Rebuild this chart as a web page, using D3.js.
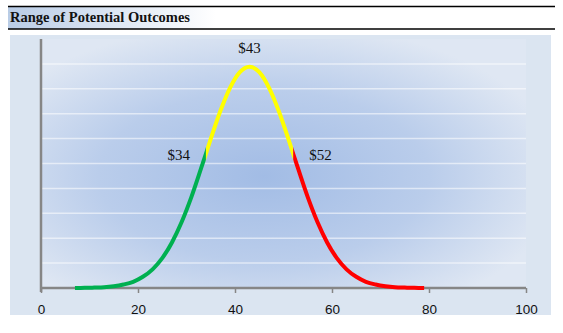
<!DOCTYPE html>
<html>
<head>
<meta charset="utf-8">
<script src="https://cdn.jsdelivr.net/npm/d3@7"></script>
<style>
  html, body { margin: 0; padding: 0; background: #fff; }
  svg { display: block; }
</style>
</head>
<body>
<svg id="chart" width="563" height="333"></svg>
<script>
// ---- data ----
const title = "Range of Potential Outcomes";
const xValues = [7, 9, 11, 13, 15, 17, 19, 21, 23, 25, 27, 29, 31, 33, 34, 35, 37, 39, 41, 43,
                 45, 47, 49, 51, 52, 53, 55, 57, 59, 61, 63, 65, 67, 69, 71, 73, 75, 77, 79];
const yValues = [0.003, 0.007, 0.016, 0.03, 0.07, 0.14, 0.25, 0.45, 0.75, 1.20, 1.83, 2.65, 3.65, 4.80, 5.39, 5.99, 7.12, 8.05, 8.67, 8.89,
                 8.67, 8.05, 7.12, 5.99, 5.39, 4.80, 3.65, 2.65, 1.83, 1.20, 0.75, 0.45, 0.25, 0.14, 0.07, 0.03, 0.016, 0.007, 0.003];
const lowValue = 34, midValue = 43, highValue = 52;
const markerLabels = ["$34", "$43", "$52"];
const xTicks = [0, 20, 40, 60, 80, 100];
const gridLevels = [1, 2, 3, 4, 5, 6, 7, 8, 9];
const segmentColors = ["#00b050", "#ffff00", "#ff0000"];

// ---- layout ----
const svg = d3.select("#chart");
const plot = { left: 41, right: 526, top: 39, bottom: 288 };
const x = d3.scaleLinear().domain([0, 100]).range([plot.left, plot.right]);
const y = d3.scaleLinear().domain([0, 10]).range([plot.bottom, plot.top]);

const defs = svg.append("defs");
const tg = defs.append("linearGradient").attr("id", "titleGrad").attr("x1", 0).attr("x2", 1).attr("y1", 0).attr("y2", 0);
tg.append("stop").attr("offset", "0").attr("stop-color", "#b9cce6");
tg.append("stop").attr("offset", "0.38").attr("stop-color", "#ffffff");
tg.append("stop").attr("offset", "1").attr("stop-color", "#ffffff");

const rg = defs.append("radialGradient").attr("id", "plotGrad")
  .attr("cx", 0.46).attr("cy", 0.55).attr("r", 0.62);
rg.append("stop").attr("offset", "0").attr("stop-color", "#a2bce5");
rg.append("stop").attr("offset", "0.55").attr("stop-color", "#bacdeb");
rg.append("stop").attr("offset", "1").attr("stop-color", "#dfe7f3");

// title bar
svg.append("rect").attr("x", 8).attr("y", 6).attr("width", 547).attr("height", 23).attr("fill", "url(#titleGrad)");
svg.append("line").attr("x1", 8).attr("x2", 555).attr("y1", 6.5).attr("y2", 6.5).attr("stroke", "#000").attr("stroke-width", 1.5);
svg.append("line").attr("x1", 8).attr("x2", 555).attr("y1", 29).attr("y2", 29).attr("stroke", "#000").attr("stroke-width", 1.5);
svg.append("text").attr("x", 10).attr("y", 22)
  .attr("font-family", "'Liberation Serif', 'Times New Roman', serif")
  .attr("font-weight", "bold").attr("font-size", 14.5).attr("fill", "#111")
  .text(title);

// chart area background
svg.append("rect").attr("x", 10).attr("y", 35).attr("width", 541).attr("height", 280).attr("fill", "#dbe5f1");
svg.append("rect").attr("x", plot.left).attr("y", plot.top)
  .attr("width", plot.right - plot.left).attr("height", plot.bottom - plot.top)
  .attr("fill", "url(#plotGrad)");

// gridlines
svg.append("g").selectAll("line").data(gridLevels).join("line")
  .attr("x1", plot.left).attr("x2", plot.right)
  .attr("y1", d => y(d)).attr("y2", d => y(d))
  .attr("stroke", "#ffffff").attr("stroke-opacity", 0.55).attr("stroke-width", 1.5);

// x axis
const xAxis = svg.append("g").attr("transform", `translate(0,${plot.bottom})`)
  .call(d3.axisBottom(x).tickValues(xTicks).tickSize(5).tickPadding(11).tickFormat(d3.format("d")));
xAxis.select(".domain").attr("stroke", "#868686").attr("stroke-width", 2.5).attr("d", `M${plot.left},0H${plot.right}`);
xAxis.selectAll(".tick line").attr("stroke", "#868686").attr("stroke-width", 1.5);
xAxis.selectAll(".tick text").attr("font-family", "'Liberation Sans', Arial, sans-serif")
  .attr("font-size", 13.5).attr("fill", "#111");

// y axis line
svg.append("line").attr("x1", plot.left).attr("x2", plot.left)
  .attr("y1", plot.top).attr("y2", plot.bottom + 4)
  .attr("stroke", "#868686").attr("stroke-width", 2.5);

// curve, coloured by range via clip paths
const points = xValues.map((v, i) => [v, yValues[i]]);
const line = d3.line().x(d => x(d[0])).y(d => y(d[1])).curve(d3.curveMonotoneX);
const bounds = [[0, lowValue], [lowValue, highValue], [highValue, 100]];
bounds.forEach((b, i) => {
  defs.append("clipPath").attr("id", "seg" + i)
    .append("rect").attr("x", x(b[0])).attr("y", 0)
    .attr("width", x(b[1]) - x(b[0])).attr("height", 333);
  svg.append("path").datum(points)
    .attr("clip-path", `url(#seg${i})`)
    .attr("d", line).attr("fill", "none")
    .attr("stroke", segmentColors[i]).attr("stroke-width", 4)
    .attr("stroke-linecap", "butt");
});

// value labels
const yAt = v => yValues[xValues.indexOf(v)];
const lblFont = "'Liberation Serif', 'Times New Roman', serif";
svg.append("text").attr("x", x(lowValue) - 16).attr("y", y(yAt(lowValue)) + 6)
  .attr("text-anchor", "end").attr("font-family", lblFont).attr("font-size", 15).attr("fill", "#111")
  .text(markerLabels[0]);
svg.append("text").attr("x", x(midValue)).attr("y", y(yAt(midValue)) - 14)
  .attr("text-anchor", "middle").attr("font-family", lblFont).attr("font-size", 15).attr("fill", "#111")
  .text(markerLabels[1]);
svg.append("text").attr("x", x(highValue) + 16).attr("y", y(yAt(highValue)) + 6)
  .attr("text-anchor", "start").attr("font-family", lblFont).attr("font-size", 15).attr("fill", "#111")
  .text(markerLabels[2]);
</script>
</body>
</html>
